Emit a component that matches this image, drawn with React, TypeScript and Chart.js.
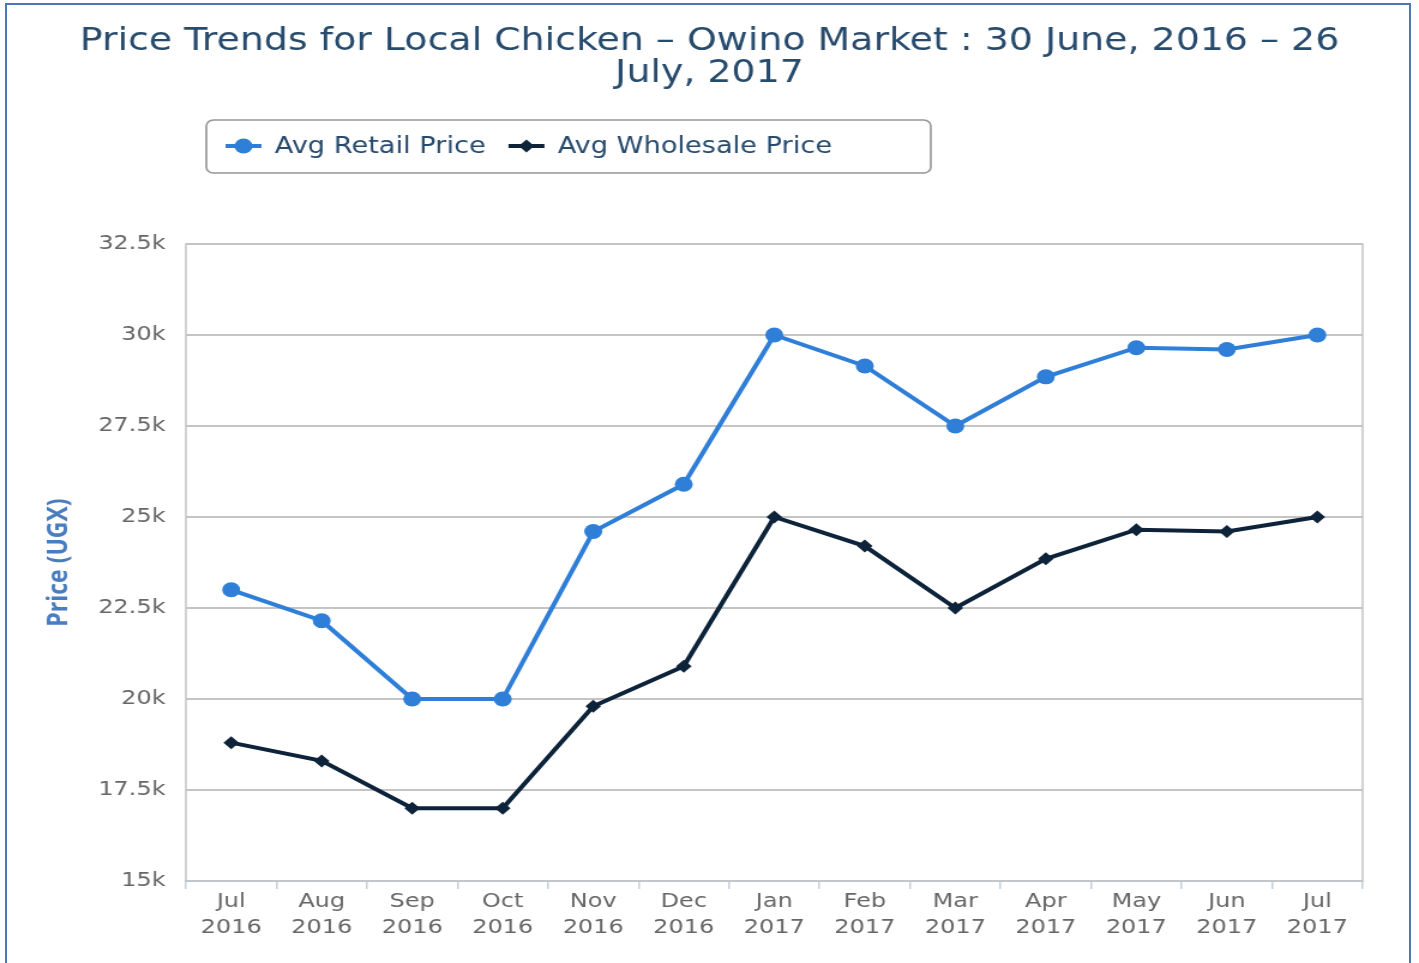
import React, { useEffect, useRef } from 'react';
import { Chart, registerables } from 'chart.js';

Chart.register(...registerables);

const months = ['Jul', 'Aug', 'Sep', 'Oct', 'Nov', 'Dec', 'Jan', 'Feb', 'Mar', 'Apr', 'May', 'Jun', 'Jul'];
const years = ['2016', '2016', '2016', '2016', '2016', '2016', '2017', '2017', '2017', '2017', '2017', '2017', '2017'];
const retailPrice = [23000, 22150, 20000, 20000, 24600, 25900, 30000, 29150, 27500, 28850, 29650, 29600, 30000];
const wholesalePrice = [18800, 18300, 17000, 17000, 19800, 20900, 25000, 24200, 22500, 23850, 24650, 24600, 25000];
const yTicks = [15000, 17500, 20000, 22500, 25000, 27500, 30000, 32500];

const titleLines = ['Price Trends for Local Chicken \u2013 Owino Market : 30 June, 2016 \u2013 26', 'July, 2017'];
const seriesNames = ['Avg Retail Price', 'Avg Wholesale Price'];
const yAxisTitle = 'Price (UGX)';

const RETAIL = '#2f7ed8';
const WHOLESALE = '#0d233a';
const TEXT_DARK = '#274b6d';
const FONT = "'DejaVu Sans', sans-serif";

// canvas is drawn narrower and stretched horizontally by CSS, like the reference
const STRETCH = 1.2;
const SCREEN_W = 1419;
const SCREEN_H = 963;
const CW = Math.round(SCREEN_W / STRETCH);
const CH = SCREEN_H;

function roundRectPath(ctx: CanvasRenderingContext2D, x: number, y: number, w: number, h: number, r: number) {
  ctx.beginPath();
  ctx.moveTo(x + r, y);
  ctx.lineTo(x + w - r, y);
  ctx.arcTo(x + w, y, x + w, y + r, r);
  ctx.lineTo(x + w, y + h - r);
  ctx.arcTo(x + w, y + h, x + w - r, y + h, r);
  ctx.lineTo(x + r, y + h);
  ctx.arcTo(x, y + h, x, y + h - r, r);
  ctx.lineTo(x, y + r);
  ctx.arcTo(x, y, x + r, y, r);
  ctx.closePath();
}

const plotBorderPlugin = {
  id: 'plotBorder',
  beforeDatasetsDraw(chart: any) {
    const { ctx, chartArea } = chart;
    ctx.save();
    ctx.strokeStyle = '#c4c4c4';
    ctx.lineWidth = 1.5;
    ctx.strokeRect(chartArea.left, chartArea.top, chartArea.right - chartArea.left, chartArea.bottom - chartArea.top);
    ctx.restore();
  },
};

const boxLegendPlugin = {
  id: 'boxLegend',
  afterDraw(chart: any) {
    const ctx: CanvasRenderingContext2D = chart.ctx;
    ctx.save();
    const bx = 172, by = 120, bw = 604, bh = 53;
    roundRectPath(ctx, bx, by, bw, bh, 6);
    ctx.fillStyle = '#ffffff';
    ctx.fill();
    ctx.strokeStyle = '#959595';
    ctx.lineWidth = 1.6;
    ctx.stroke();

    ctx.font = `22.7px ${FONT}`;
    ctx.textBaseline = 'middle';
    ctx.textAlign = 'left';
    const cy = by + 26;
    let x = 188;
    chart.data.datasets.forEach((ds: any) => {
      const color = ds.borderColor;
      ctx.strokeStyle = color;
      ctx.lineWidth = 4;
      ctx.beginPath();
      ctx.moveTo(x, cy);
      ctx.lineTo(x + 30, cy);
      ctx.stroke();
      ctx.fillStyle = color;
      const mx = x + 15;
      ctx.beginPath();
      if (ds.pointStyle === 'rectRot') {
        const r = 6.5;
        ctx.moveTo(mx, cy - r);
        ctx.lineTo(mx + r, cy);
        ctx.lineTo(mx, cy + r);
        ctx.lineTo(mx - r, cy);
        ctx.closePath();
      } else {
        ctx.arc(mx, cy, 7.5, 0, Math.PI * 2);
      }
      ctx.fill();
      ctx.fillStyle = TEXT_DARK;
      const tx = x + 41;
      ctx.fillText(ds.label, tx, cy + 1);
      x = tx + ctx.measureText(ds.label).width + 19;
    });
    ctx.restore();
  },
};

export default function App() {
  const canvasRef = useRef<HTMLCanvasElement | null>(null);

  useEffect(() => {
    const canvas = canvasRef.current;
    if (!canvas) return;
    const chart = new Chart(canvas, {
      type: 'line',
      data: {
        labels: months.map((m, i) => [m, years[i]]),
        datasets: [
          {
            label: seriesNames[0],
            data: retailPrice,
            borderColor: RETAIL,
            backgroundColor: RETAIL,
            borderWidth: 4,
            pointStyle: 'circle',
            pointRadius: 7.5,
            pointHoverRadius: 7.5,
            pointBorderWidth: 0,
            pointBackgroundColor: RETAIL,
            tension: 0,
          },
          {
            label: seriesNames[1],
            data: wholesalePrice,
            borderColor: WHOLESALE,
            backgroundColor: WHOLESALE,
            borderWidth: 4,
            pointStyle: 'rectRot',
            pointRadius: 6.5,
            pointHoverRadius: 6.5,
            pointBorderWidth: 0,
            pointBackgroundColor: WHOLESALE,
            tension: 0,
          },
        ],
      },
      options: {
        responsive: false,
        devicePixelRatio: 1,
        animation: false,
        layout: { padding: 0 },
        plugins: {
          legend: { display: false },
          tooltip: { enabled: false },
          title: {
            display: true,
            text: titleLines,
            color: TEXT_DARK,
            font: { family: FONT, size: 31.6, weight: 'normal', lineHeight: 32 / 31.6 },
            padding: { top: 26, bottom: 154 },
          },
        },
        scales: {
          x: {
            type: 'category',
            offset: true,
            afterFit: (s: any) => {
              s.height = 82;
            },
            grid: {
              display: true,
              drawOnChartArea: false,
              drawTicks: true,
              tickLength: 8,
              offset: true,
              color: '#c0d0e0',
              lineWidth: 1.5,
            },
            border: { display: true, color: '#c0d0e0', width: 2 },
            ticks: {
              color: '#666666',
              font: { family: FONT, size: 20, lineHeight: 1.3 },
              padding: 0,
              maxRotation: 0,
              autoSkip: false,
            },
          },
          y: {
            min: yTicks[0],
            max: yTicks[yTicks.length - 1],
            afterFit: (s: any) => {
              s.width = 155;
            },
            afterBuildTicks: (s: any) => {
              s.ticks = yTicks.map((v) => ({ value: v }));
            },
            grid: { color: '#c4c4c4', lineWidth: 2, drawTicks: false },
            border: { display: false },
            ticks: {
              color: '#666666',
              font: { family: FONT, size: 20 },
              padding: 17,
              callback: (v: any) => `${Number(v) / 1000}k`,
            },
            title: {
              display: true,
              text: yAxisTitle,
              color: '#4a7dbf',
              font: { family: "'Open Sans', sans-serif", size: 23, weight: 'bold', lineHeight: 1.2 },
              padding: { top: 36, bottom: 0 },
            },
          },
          yRight: {
            position: 'right',
            min: yTicks[0],
            max: yTicks[yTicks.length - 1],
            afterFit: (s: any) => {
              s.width = CW - 1136;
            },
            grid: { display: false, drawOnChartArea: false, drawTicks: false },
            border: { display: false },
            ticks: { display: false },
          },
        },
      },
      plugins: [plotBorderPlugin, boxLegendPlugin],
    } as any);
    return () => chart.destroy();
  }, []);

  return (
    <div
      style={{
        position: 'absolute',
        left: 0,
        top: 0,
        width: SCREEN_W,
        height: SCREEN_H,
        overflow: 'hidden',
        background: '#ffffff',
      }}
    >
      <canvas
        ref={canvasRef}
        width={CW}
        height={CH}
        style={{ position: 'absolute', left: 0, top: 0, width: SCREEN_W + 'px', height: SCREEN_H + 'px', display: 'block' }}
      />
      <div
        style={{
          position: 'absolute',
          left: 5,
          top: 3,
          width: 1406,
          height: 1000,
          border: '2px solid #4a78b2',
          boxSizing: 'border-box',
          pointerEvents: 'none',
        }}
      />
    </div>
  );
}
